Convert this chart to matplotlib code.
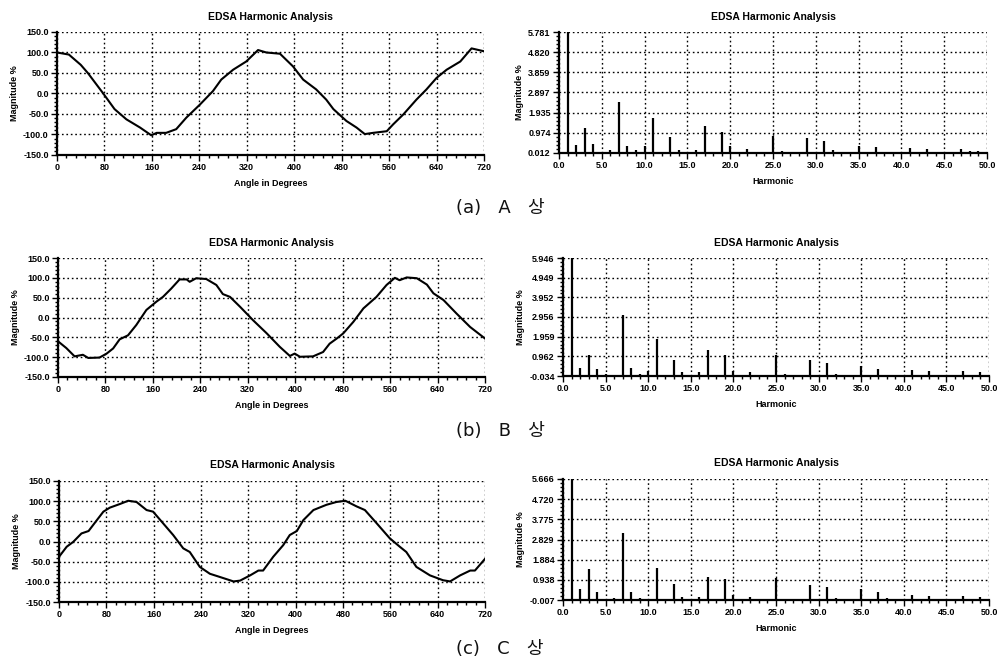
import matplotlib.pyplot as plt
from matplotlib.ticker import AutoMinorLocator, MultipleLocator, FixedLocator

plt.rcParams['font.family'] = ['Liberation Sans', 'DejaVu Sans']

# waveform samples (angle in degrees, magnitude %)
ang_a = [0, 20, 40, 52, 78, 97, 117, 140, 159, 168, 184, 201, 218, 241, 263, 277, 297, 319, 339,
         353, 376, 398, 415, 437, 454, 466, 488, 505, 519, 533, 556, 567, 584, 606, 623, 640,
         657, 680, 699, 720]
wave_a = [100, 95, 70, 50, 0, -38, -63, -83, -102, -96, -96, -87, -59, -27, 6, 34, 58, 78, 106,
          100, 97, 66, 34, 10, -15, -38, -67, -83, -99, -96, -92, -75, -51, -15, 10, 38,
          58, 78, 110, 103]

ang_b = [0, 14, 28, 42, 51, 70, 82, 93, 104, 118, 132, 149, 166, 177, 191, 205, 217, 222, 233,
         250, 267, 278, 290, 307, 329, 352, 374, 391, 399, 408, 430, 447, 458, 470, 481, 498,
         515, 537, 554, 568, 576, 588, 605, 622, 633, 650, 672, 695, 720]
wave_b = [-60, -77, -98, -94, -102, -101, -91, -78, -55, -45, -19, 19, 40, 52, 73, 96, 96, 90, 99,
          97, 82, 59, 52, 27, -7, -40, -74, -97, -91, -99, -98, -87, -66, -53, -40, -11,
          23, 52, 82, 100, 94, 101, 99, 83, 61, 44, 10, -24, -53]

ang_c = [0, 13, 24, 38, 50, 64, 75, 86, 103, 117, 131, 148, 159, 176, 193, 210, 221, 238, 255,
         272, 295, 306, 323, 337, 345, 362, 379, 390, 402, 413, 430, 452, 469, 484, 503, 517,
         537, 559, 576, 587, 604, 627, 649, 661, 678, 695, 703, 720]
wave_c = [-38, -13, -1, 20, 26, 53, 74, 84, 93, 101, 98, 78, 74, 45, 16, -17, -26, -63, -80,
          -88, -99, -97, -84, -72, -72, -38, -9, 16, 26, 53, 78, 91, 98, 101, 87, 78,
          45, 8, -13, -26, -63, -84, -96, -99, -84, -72, -72, -43]

# harmonic spectra
harm = [1, 2, 3, 4, 5, 6, 7, 8, 9, 10, 11, 12, 13, 14, 16, 17, 19, 20, 22, 25, 26, 28, 29, 31, 32,
        34, 35, 37, 38, 41, 43, 45, 47, 48, 49]
mag_a = [5.781, 0.41, 1.20, 0.44, 0.05, 0.14, 2.46, 0.33, 0.14, 0.33, 1.70, 0.05, 0.77, 0.17, 0.17,
         1.28, 1.00, 0.33, 0.20, 0.80, 0.12, 0.05, 0.75, 0.60, 0.14, 0.05, 0.33, 0.31, 0.05, 0.23,
         0.22, 0.08, 0.20, 0.10, 0.10]
mag_b = [5.946, 0.37, 1.01, 0.30, 0.05, 0.03, 3.07, 0.37, 0.08, 0.22, 1.82, 0.02, 0.76, 0.17, 0.17,
         1.27, 1.01, 0.22, 0.17, 1.01, 0.05, 0.02, 0.76, 0.64, 0.06, 0.02, 0.47, 0.34, 0.02, 0.25,
         0.20, 0.02, 0.20, 0.02, 0.15]
mag_c = [5.666, 0.51, 1.45, 0.38, 0.03, 0.10, 3.12, 0.35, 0.10, 0.03, 1.51, 0.02, 0.76, 0.15, 0.12,
         1.09, 0.96, 0.23, 0.14, 1.04, 0.06, 0.06, 0.70, 0.62, 0.10, 0.06, 0.50, 0.35, 0.08, 0.23,
         0.20, 0.03, 0.20, 0.03, 0.12]

yticks_a = [0.012, 0.974, 1.935, 2.897, 3.859, 4.820, 5.781]
yticks_b = [-0.034, 0.962, 1.959, 2.956, 3.952, 4.949, 5.946]
yticks_c = [-0.007, 0.938, 1.884, 2.829, 3.775, 4.720, 5.666]

captions = ['(a)   A   상', '(b)   B   상', '(c)   C   상']

W, H = 1003, 665
fig = plt.figure(figsize=(W / 100, H / 100), dpi=100)


def box(l, t, r, b):
    return [l / W, 1 - b / H, (r - l) / W, (b - t) / H]


def style(ax):
    for s in ['top', 'right']:
        ax.spines[s].set_visible(False)
    for s in ['left', 'bottom']:
        ax.spines[s].set_linewidth(1.6)
    ax.grid(True, which='major', linestyle=(0, (1.2, 2)), color='black', linewidth=1.0)
    ax.tick_params(which='major', length=4, width=1, labelsize=6.5, pad=2)
    ax.tick_params(which='minor', length=2, width=1)
    for lab in ax.get_xticklabels() + ax.get_yticklabels():
        lab.set_fontweight('bold')
    ax.set_axisbelow(True)


def wave_panel(rect, ang, wave):
    ax = fig.add_axes(rect)
    ax.plot(ang, wave, color='black', linewidth=1.5)
    ax.set_xlim(0, 720)
    ax.set_ylim(-150, 150)
    ax.xaxis.set_major_locator(MultipleLocator(80))
    ax.xaxis.set_minor_locator(AutoMinorLocator(5))
    ax.yaxis.set_minor_locator(AutoMinorLocator(5))
    ax.set_yticks(range(-150, 151, 50))
    ax.set_yticklabels([f'{v:.1f}' for v in range(-150, 151, 50)])
    ax.set_title('EDSA Harmonic Analysis', fontsize=7.5, fontweight='bold', pad=9)
    ax.set_xlabel('Angle in Degrees', fontsize=6.5, fontweight='bold', labelpad=5)
    ax.set_ylabel('Magnitude %', fontsize=6.5, fontweight='bold', labelpad=3)
    style(ax)
    return ax


def harm_panel(rect, mag, yt):
    ax = fig.add_axes(rect)
    ax.vlines(harm, yt[0], mag, color='black', linewidth=1.6)
    ax.set_xlim(0, 50)
    ax.set_ylim(yt[0], yt[-1])
    ax.xaxis.set_minor_locator(AutoMinorLocator(5))
    ax.set_xticks(range(0, 51, 5))
    ax.set_xticklabels([f'{v:.1f}' for v in range(0, 51, 5)])
    ax.yaxis.set_major_locator(FixedLocator(yt))
    ax.set_yticklabels([f'{v:.3f}' for v in yt])
    ax.yaxis.set_minor_locator(AutoMinorLocator(5))
    ax.set_title('EDSA Harmonic Analysis', fontsize=7.5, fontweight='bold', pad=9)
    ax.set_xlabel('Harmonic', fontsize=6.5, fontweight='bold', labelpad=5)
    ax.set_ylabel('Magnitude %', fontsize=6.5, fontweight='bold', labelpad=3)
    style(ax)
    return ax


wave_panel(box(57, 32, 484, 155), ang_a, wave_a)
harm_panel(box(559, 32, 987, 153), mag_a, yticks_a)
wave_panel(box(58, 258, 485, 377), ang_b, wave_b)
harm_panel(box(563, 258, 989, 376), mag_b, yticks_b)
wave_panel(box(59, 481, 485, 602), ang_c, wave_c)
harm_panel(box(563, 479, 989, 600), mag_c, yticks_c)

for cap, y in zip(captions, [208, 431, 649]):
    fig.text(500 / W, 1 - y / H, cap, ha='center', va='center', fontsize=13,
             family=['DejaVu Sans', 'Noto Sans CJK KR'], color='#111111')

fig.savefig('out.png', dpi=100)
